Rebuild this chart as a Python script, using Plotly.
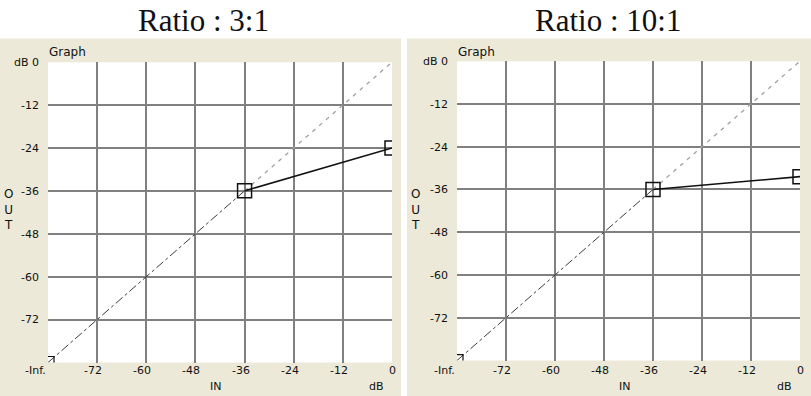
import plotly.graph_objects as go

# ---- data ----
titles = ["Ratio : 3:1", "Ratio : 10:1"]
threshold = -36
in_points = [-84, -36, 0]
out_3to1 = [-84, -36, -24]
out_10to1 = [-84, -36, -32.4]
unity_low_x = [-84, -36]
unity_high_x = [-36, 0]
grid_vals = [-84, -72, -60, -48, -36, -24, -12]
x_tick_vals = [-84, -72, -60, -48, -36, -24, -12, 0]
x_tick_text = ["-Inf.", "-72", "-60", "-48", "-36", "-24", "-12", "0"]
y_tick_vals = [0, -12, -24, -36, -48, -60, -72]
y_tick_text = ["dB 0", "-12", "-24", "-36", "-48", "-60", "-72"]

W, H = 811, 396
def px(v): return v / W
def py(v): return 1 - v / H

BEIGE = "#ECE9D8"
GRID = "#808080"
FONT = "DejaVu Sans"
TXT = "#111111"

fig = go.Figure()

panels = [
    dict(xa="x", ya="y", out=out_3to1, dom_x=(48, 392), dom_y=(57, 362), bg=(0, 401), title_x=203, graph_x=47, out_x=8),
    dict(xa="x2", ya="y2", out=out_10to1, dom_x=(457, 800), dom_y=(56, 360), bg=(407, 811), title_x=608, graph_x=456, out_x=415),
]

shapes = []
annotations = []
for i, p in enumerate(panels):
    # beige panel
    shapes.append(dict(type="rect", xref="paper", yref="paper", x0=px(p["bg"][0]), x1=px(p["bg"][1]),
                       y0=0, y1=py(33), fillcolor=BEIGE, line=dict(width=0), layer="below"))
    # white plot area
    shapes.append(dict(type="rect", xref="paper", yref="paper", x0=px(p["dom_x"][0]), x1=px(p["dom_x"][1]),
                       y0=py(p["dom_y"][1]), y1=py(p["dom_y"][0]), fillcolor="white", line=dict(width=0), layer="below"))
    # unity line below knee
    fig.add_trace(go.Scatter(x=unity_low_x, y=unity_low_x, xaxis=p["xa"], yaxis=p["ya"], mode="lines",
                             line=dict(color="#3a3a3a", width=1, dash="dashdot"), showlegend=False, hoverinfo="skip"))
    # unity line above knee
    fig.add_trace(go.Scatter(x=unity_high_x, y=unity_high_x, xaxis=p["xa"], yaxis=p["ya"], mode="lines",
                             line=dict(color="#a0a0a0", width=1.3, dash="4px,5px"), showlegend=False, hoverinfo="skip"))
    # compression line
    fig.add_trace(go.Scatter(x=in_points[1:], y=p["out"][1:], xaxis=p["xa"], yaxis=p["ya"], mode="lines",
                             line=dict(color=TXT, width=1.6), showlegend=False, hoverinfo="skip"))
    # handles
    fig.add_trace(go.Scatter(x=in_points[1:], y=p["out"][1:], xaxis=p["xa"], yaxis=p["ya"], mode="markers",
                             marker=dict(symbol="square-open", size=14, color=TXT, line=dict(width=1.5)),
                             showlegend=False, hoverinfo="skip"))
    fig.add_trace(go.Scatter(x=in_points[:1], y=p["out"][:1], xaxis=p["xa"], yaxis=p["ya"], mode="markers",
                             marker=dict(symbol="square-open", size=12, color=TXT, line=dict(width=1.2)),
                             showlegend=False, hoverinfo="skip"))
    # titles
    annotations.append(dict(text=titles[i], x=px(p["title_x"]), y=py(15), xref="paper", yref="paper",
                            showarrow=False, xanchor="center", yanchor="middle",
                            font=dict(family="Liberation Serif", size=31, color=TXT)))
    annotations.append(dict(text="Graph", x=px(p["graph_x"]), y=py(47), xref="paper", yref="paper",
                            showarrow=False, xanchor="left", yanchor="middle",
                            font=dict(family=FONT, size=12, color=TXT)))
    annotations.append(dict(text="O<br>U<br>T", x=px(p["out_x"]), y=py(207), xref="paper", yref="paper",
                            showarrow=False, xanchor="center", yanchor="middle",
                            font=dict(family=FONT, size=12, color=TXT)))
    # x tick labels
    for v, t in zip(x_tick_vals, x_tick_text):
        if t == "-Inf.":
            annotations.append(dict(text=t, x=v, xref=p["xa"], y=py(370), yref="paper", showarrow=False,
                                    xanchor="right", yanchor="middle", font=dict(family=FONT, size=11, color=TXT)))
        else:
            annotations.append(dict(text=t, x=v, xref=p["xa"], y=py(370), yref="paper", showarrow=False,
                                    xanchor="center", yanchor="middle", xshift=(0 if v == 0 else -4),
                                    font=dict(family=FONT, size=11, color=TXT)))
    annotations.append(dict(text="IN", x=-43, xref=p["xa"], y=py(386), yref="paper", showarrow=False,
                            xanchor="center", yanchor="middle", font=dict(family=FONT, size=11, color=TXT)))
    annotations.append(dict(text="dB", x=-3.7, xref=p["xa"], y=py(386), yref="paper", showarrow=False,
                            xanchor="center", yanchor="middle", font=dict(family=FONT, size=11, color=TXT)))

axis_common = dict(showgrid=True, gridcolor=GRID, gridwidth=2, zeroline=False, showline=False, ticks="",
                   fixedrange=True)

p0, p1 = panels
fig.update_layout(
    width=W, height=H, margin=dict(l=0, r=0, t=0, b=0),
    paper_bgcolor="white", plot_bgcolor="white",
    shapes=shapes, annotations=annotations,
    xaxis=dict(domain=[px(p0["dom_x"][0]), px(p0["dom_x"][1])], range=[-84, 0], anchor="y",
               tickvals=grid_vals, showticklabels=False, **axis_common),
    yaxis=dict(domain=[py(p0["dom_y"][1]), py(p0["dom_y"][0])], range=[-84, 0], anchor="x",
               tickvals=y_tick_vals, ticktext=y_tick_text, ticklabelstandoff=8,
               tickfont=dict(family=FONT, size=11, color=TXT), **axis_common),
    xaxis2=dict(domain=[px(p1["dom_x"][0]), px(p1["dom_x"][1])], range=[-84, 0], anchor="y2",
                tickvals=grid_vals, showticklabels=False, **axis_common),
    yaxis2=dict(domain=[py(p1["dom_y"][1]), py(p1["dom_y"][0])], range=[-84, 0], anchor="x2",
                tickvals=y_tick_vals, ticktext=y_tick_text, ticklabelstandoff=8,
                tickfont=dict(family=FONT, size=11, color=TXT), **axis_common),
)

fig.write_html("out.html", config={"displayModeBar": False},
               post_script="document.body.style.margin='0px';document.body.style.padding='0px';document.body.style.overflow='hidden';")
